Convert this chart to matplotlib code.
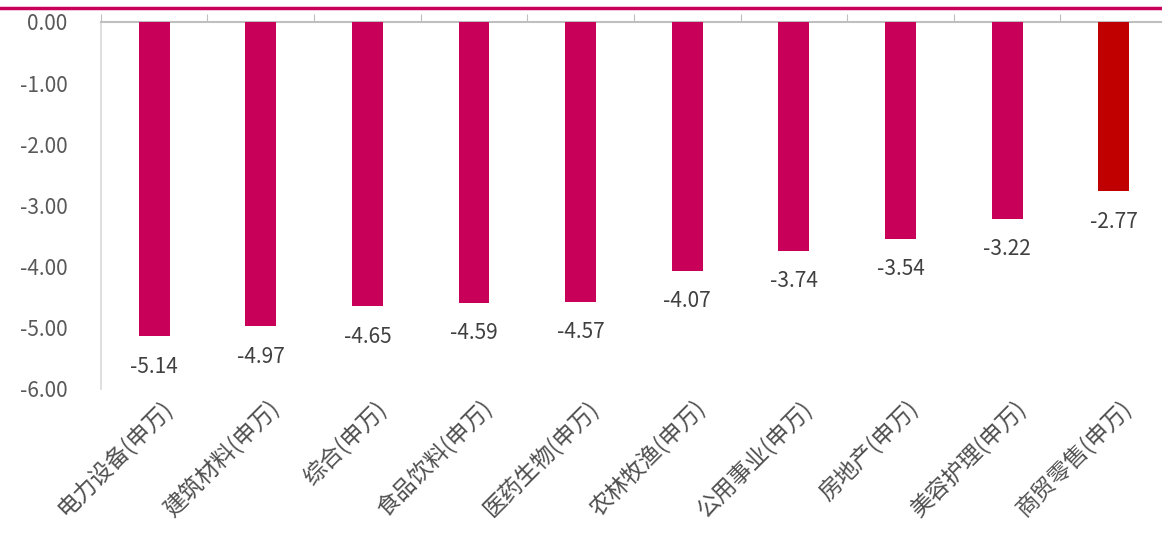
import matplotlib
matplotlib.use("Agg")
import matplotlib.pyplot as plt
from matplotlib.lines import Line2D
import numpy as np

# data ##############
categories = ["电力设备(申万)", "建筑材料(申万)", "综合(申万)", "食品饮料(申万)",
              "医药生物(申万)", "农林牧渔(申万)", "公用事业(申万)", "房地产(申万)",
              "美容护理(申万)", "商贸零售(申万)"]
values = [-5.14, -4.97, -4.65, -4.59, -4.57, -4.07, -3.74, -3.54, -3.22, -2.77]
colors = ["#C8005A"] * 9 + ["#C00000"]
yticks = [0, -1, -2, -3, -4, -5, -6]
####################

plt.rcParams["font.family"] = ["Noto Sans CJK SC", "DejaVu Sans"]

fig = plt.figure(figsize=(11.62, 5.36), dpi=100)
ax = fig.add_axes([0.0867, 0.2743, 0.9177, 0.6847])

x = np.arange(len(values))
ax.bar(x, values, width=0.29, color=colors, zorder=3)

# value labels below bars
for xi, v in zip(x, values):
    ax.annotate(f"{v:.2f}", (xi, v), xytext=(0, -22), textcoords="offset points",
                ha="center", va="center", fontsize=15, color="#404040")

ax.set_xlim(-0.5, 9.5)
ax.set_ylim(-6, 0)
ax.set_yticks(yticks)
ax.set_yticklabels([f"{t:.2f}" for t in yticks], fontsize=15, color="#595959")
ax.tick_params(axis="y", length=0, pad=24)

# category axis along the top (zero line), ticks at boundaries
ax.xaxis.set_ticks_position("top")
ax.set_xticks(np.arange(-0.5, 10, 1))
ax.tick_params(axis="x", which="major", direction="out", length=6,
               color="#BFBFBF", labeltop=False)
for xi, lab in zip(x, categories):
    ax.text(xi + 0.06, -6.12, lab, rotation=45, ha="right", va="top",
            rotation_mode="anchor", fontsize=16.5, color="#505050")

for s in ["right", "bottom"]:
    ax.spines[s].set_visible(False)
ax.spines["top"].set_color("#BFBFBF")
ax.spines["top"].set_linewidth(1.5)
ax.spines["left"].set_color("#D9D9D9")
ax.spines["left"].set_linewidth(1.2)

# magenta rule at top of figure
fig.add_artist(Line2D([0, 1], [0.985, 0.985], transform=fig.transFigure,
                      color="#C8005A", lw=2.5))

fig.savefig("out.png", dpi=100)
